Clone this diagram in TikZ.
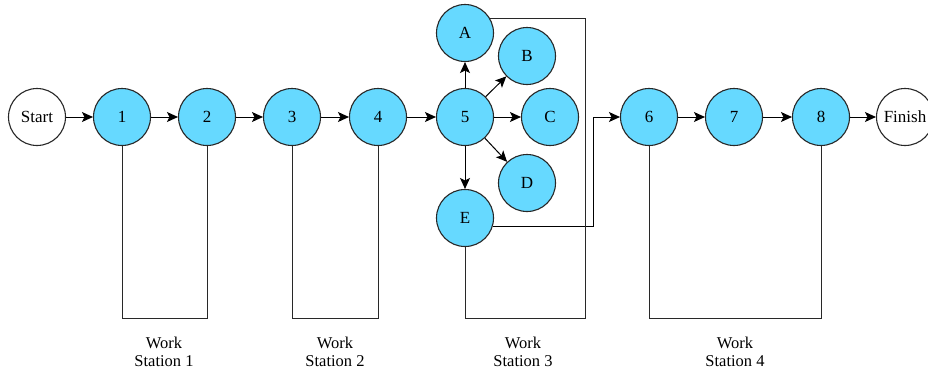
\documentclass[tikz,border=0pt]{standalone}
\usepackage{fontspec}
\setmainfont{Liberation Serif}
\usetikzlibrary{arrows.meta}
\definecolor{stationfill}{RGB}{102,217,255}
\definecolor{linegray}{RGB}{40,40,40}
\tikzset{
  op/.style={circle, draw=linegray, line width=1.1pt, fill=stationfill,
    minimum size=57pt, inner sep=0pt, font=\fontsize{17}{18}\selectfont},
  term/.style={op, fill=white},
  arr/.style={draw=black, line width=1pt,
    -{Stealth[length=11pt, width=10pt, inset=2.5pt]}},
  bracket/.style={draw=linegray, line width=0.9pt},
  stlabel/.style={align=center, font=\fontsize{16.5}{18}\selectfont, inner sep=0pt}
}
\begin{document}
\begin{tikzpicture}[x=1pt, y=-1pt]
\clip (0,0) rectangle (928,378);
\fill[white] (0,0) rectangle (928,378);

% main line of operations
\node[term] (start) at (37,117) {Start};
\node[op] (n1) at (122,117) {1};
\node[op] (n2) at (207,117) {2};
\node[op] (n3) at (292,117) {3};
\node[op] (n4) at (378,117) {4};
\node[op] (n5) at (465,117) {5};
\node[op] (nA) at (465,33) {A};
\node[op] (nB) at (527,56) {B};
\node[op] (nC) at (550,117) {C};
\node[op] (nD) at (527,183) {D};
\node[op] (nE) at (465,218) {E};
\node[op] (n6) at (649,117) {6};
\node[op] (n7) at (734,117) {7};
\node[op] (n8) at (821,117) {8};
\node[term] (finish) at (905,117) {Finish};

% helper points for the routed lines
\coordinate (base) at (0,318);
\coordinate (r3) at (585,318);
\coordinate (j6) at (593,117);

% flow arrows
\draw[arr] (start) -- (n1);
\draw[arr] (n1) -- (n2);
\draw[arr] (n2) -- (n3);
\draw[arr] (n3) -- (n4);
\draw[arr] (n4) -- (n5);
\draw[arr] (n5) -- (nA);
\draw[arr] (n5) -- (nB);
\draw[arr] (n5) -- (nC);
\draw[arr] (n5) -- (nD);
\draw[arr] (n5) -- (nE);
\draw[arr] (nE.-16) -| (j6) -- (n6);
\draw[arr] (n6) -- (n7);
\draw[arr] (n7) -- (n8);
\draw[arr] (n8) -- (finish);

% work station groupings
\draw[bracket] (n1.south) |- (n2.south |- base) -- (n2.south);
\draw[bracket] (n3.south) |- (n4.south |- base) -- (n4.south);
\draw[bracket] (nE.south) |- (r3) |- (nA.30);
\draw[bracket] (n6.south) |- (n8.south |- base) -- (n8.south);

% station labels
\node[stlabel] (ws1) at (164,352) {Work\\Station 1};
\node[stlabel] (ws2) at (335,352) {Work\\Station 2};
\node[stlabel] (ws3) at (523,352) {Work\\Station 3};
\node[stlabel] (ws4) at (735,352) {Work\\Station 4};
\end{tikzpicture}
\end{document}
